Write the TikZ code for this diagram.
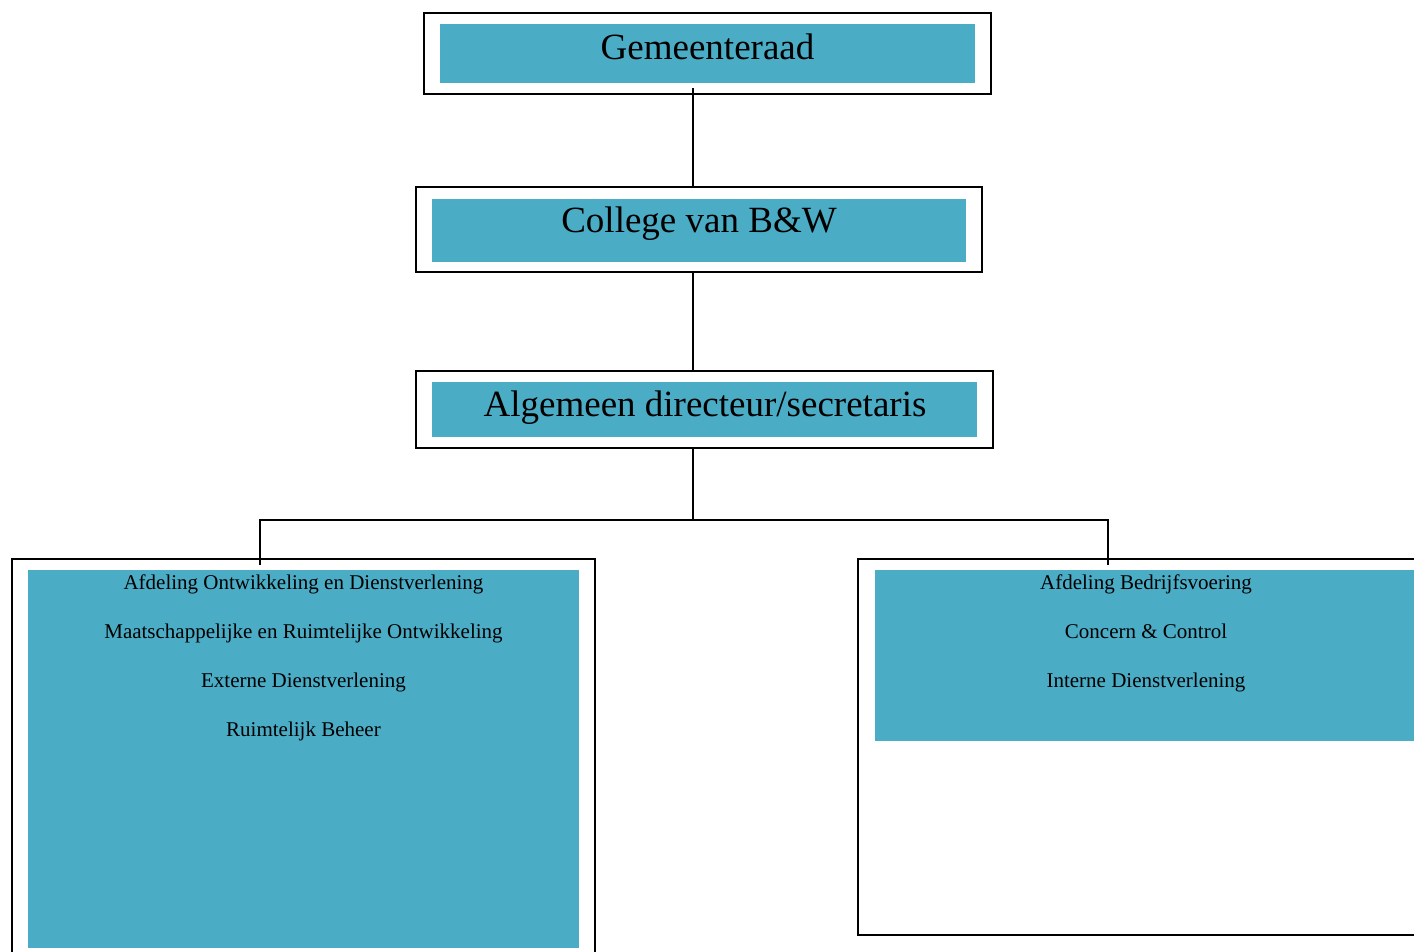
\documentclass[tikz,border=0pt]{standalone}
\usepackage{fontspec}
\setmainfont{Liberation Serif}
\definecolor{orgfill}{RGB}{75,172,198}
\begin{document}
\begin{tikzpicture}[x=1pt,y=-1pt,
  outerbox/.style={draw=black, line width=1.8pt, inner sep=0pt, fill=white},
  innerbox/.style={fill=orgfill, inner sep=0pt},
  bigtext/.style={font=\fontsize{37}{44}\selectfont, anchor=base, inner sep=0pt},
  smalltext/.style={font=\fontsize{21}{25}\selectfont, anchor=base, inner sep=0pt},
  conn/.style={draw=black, line width=1.5pt}]
\useasboundingbox (0,0) rectangle (1414,952);
\clip (0,0) rectangle (1414,952);
\fill[white] (0,0) rectangle (1414,952);

\coordinate (spine) at (693,0);

% Gemeenteraad
\node[outerbox, minimum width=567pt, minimum height=81pt] (gout) at (707.5,53.5) {};
\node[innerbox, minimum width=535pt, minimum height=59pt] (gin) at (707.5,53.5) {};
\node[bigtext] (gtxt) at (707.5,60) {Gemeenteraad};

% College
\node[outerbox, minimum width=566pt, minimum height=85pt] (cout) at (699,229.5) {};
\node[innerbox, minimum width=534pt, minimum height=63pt] (cin) at (699,230.5) {};
\node[bigtext] (ctxt) at (699,233) {College van B\&W};

% Algemeen directeur
\node[outerbox, minimum width=577pt, minimum height=77pt] (aout) at (704.5,409.5) {};
\node[innerbox, minimum width=545pt, minimum height=55pt] (ain) at (704.5,409.5) {};
\node[bigtext] (atxt) at (705,416) {Algemeen directeur/secretaris};

% Left department
\node[outerbox, minimum width=583pt, minimum height=420pt] (lout) at (303.5,769) {};
\node[innerbox, minimum width=551pt, minimum height=378pt] (lin) at (303.5,759) {};
\node[smalltext] (l1) at (303.5,589) {Afdeling Ontwikkeling en Dienstverlening};
\node[smalltext] (l2) at (303.5,638) {Maatschappelijke en Ruimtelijke Ontwikkeling};
\node[smalltext] (l3) at (303.5,687) {Externe Dienstverlening};
\node[smalltext] (l4) at (303.5,736) {Ruimtelijk Beheer};

% Right department
\node[outerbox, minimum width=580pt, minimum height=376pt] (rout) at (1148,747) {};
\node[innerbox, minimum width=555pt, minimum height=171pt] (rin) at (1152.5,655.5) {};
\node[smalltext] (r1) at (1146,589) {Afdeling Bedrijfsvoering};
\node[smalltext] (r2) at (1146,638) {Concern \& Control};
\node[smalltext] (r3) at (1146,687) {Interne Dienstverlening};

% Connectors
\coordinate (gstart) at (693,88);
\coordinate (junc) at (693,520);
\coordinate (jl) at (260,520);
\coordinate (jr) at (1108,520);
\coordinate (el) at (260,565);
\coordinate (er) at (1108,565);
\draw[conn] (gstart) -- (cout.north -| spine);
\draw[conn] (cout.south -| spine) -- (aout.north -| spine);
\draw[conn] (aout.south -| spine) -- (junc);
\draw[conn] (el) -- (jl) -- (jr) -- (er);
\end{tikzpicture}
\end{document}
